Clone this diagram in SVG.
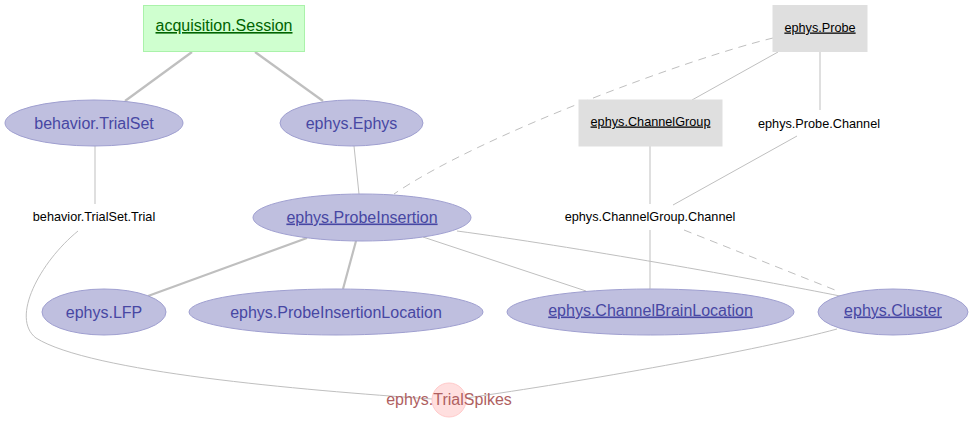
<svg xmlns="http://www.w3.org/2000/svg" width="974" height="424" viewBox="0 0 974 424">
<style>
text{font-family:"Liberation Sans",Arial,sans-serif;text-anchor:middle}
.e{fill:none;stroke:#bfbfbf;stroke-width:1}
.t{stroke-width:2.2}
.d{stroke-dasharray:8,6}
.imp ellipse{fill:#bfbfdf;stroke:#9f9fd0;stroke-width:1}
.imp text{font-size:16px;fill:#4747a3}
.lk rect{fill:#dfdfdf;stroke:#dfdfdf}
.lk text{font-size:12.7px;fill:#000}
.pt text{font-size:12.7px;fill:#000}
.u{text-decoration:underline}
</style>
<rect width="974" height="424" fill="#fff"/>
<g id="edges">
<path class="e t" d="M192,52 L125,101"/>
<path class="e t" d="M255,52 L323,101"/>
<path class="e" d="M95,146 L95,204"/>
<path class="e" d="M354,146 L359,194"/>
<path class="e d" d="M773,38 C690,58 480,135 394,194"/>
<path class="e" d="M778,52 L692,100"/>
<path class="e" d="M820,52 L820,110"/>
<path class="e" d="M650,146 L650,204"/>
<path class="e" d="M797,136 L673,205"/>
<path class="e t" d="M307,238 L148,296"/>
<path class="e t" d="M356,241 L343,289"/>
<path class="e" d="M423,237 L586,291"/>
<path class="e" d="M457,231 C570,246 760,280 840,296"/>
<path class="e d" d="M684,230 L840,292"/>
<path class="e" d="M650,230 L650,289"/>
<path class="e" d="M78,231 C40,262 10,318 36,338 C90,372 300,390 432,399"/>
<path class="e" d="M837,329 C760,350 580,382 466,398"/>
</g>
<g id="acquisition.Session">
<rect x="143.5" y="5.5" width="161" height="46" fill="#cfffcf" stroke="#aaf2aa"/>
<text x="224" y="31" class="u" font-size="16" fill="#006400">acquisition.Session</text>
</g>
<g id="behavior.TrialSet" class="imp">
<ellipse cx="94" cy="123" rx="89" ry="23"/>
<text x="94" y="128.5">behavior.TrialSet</text>
</g>
<g id="ephys.Ephys" class="imp">
<ellipse cx="351.5" cy="123" rx="71.5" ry="23"/>
<text x="351.5" y="128.5">ephys.Ephys</text>
</g>
<g id="ephys.Probe" class="lk">
<rect x="773" y="5.5" width="94" height="46"/>
<text x="820" y="31.5" class="u">ephys.Probe</text>
</g>
<g id="ephys.ChannelGroup" class="lk">
<rect x="579" y="100" width="143" height="46"/>
<text x="650.5" y="125.5" class="u">ephys.ChannelGroup</text>
</g>
<g id="ephys.Probe.Channel" class="pt">
<text x="819" y="127.5">ephys.Probe.Channel</text>
</g>
<g id="behavior.TrialSet.Trial" class="pt">
<text x="94" y="220.5">behavior.TrialSet.Trial</text>
</g>
<g id="ephys.ChannelGroup.Channel" class="pt">
<text x="650" y="220.5">ephys.ChannelGroup.Channel</text>
</g>
<g id="ephys.ProbeInsertion" class="imp">
<ellipse cx="362" cy="217.5" rx="109" ry="23.5"/>
<text x="362" y="222.5" class="u">ephys.ProbeInsertion</text>
</g>
<g id="ephys.LFP" class="imp">
<ellipse cx="104" cy="312" rx="62" ry="23"/>
<text x="104" y="317.5">ephys.LFP</text>
</g>
<g id="ephys.ProbeInsertionLocation" class="imp">
<ellipse cx="336" cy="312" rx="147" ry="23"/>
<text x="336" y="317.5">ephys.ProbeInsertionLocation</text>
</g>
<g id="ephys.ChannelBrainLocation" class="imp">
<ellipse cx="650.5" cy="312" rx="143.5" ry="23"/>
<text x="650.5" y="315.5" class="u">ephys.ChannelBrainLocation</text>
</g>
<g id="ephys.Cluster" class="imp">
<ellipse cx="893" cy="312" rx="75" ry="23"/>
<text x="893" y="315.5" class="u">ephys.Cluster</text>
</g>
<g id="ephys.TrialSpikes">
<circle cx="449" cy="400" r="17" fill="#ffdfdf" stroke="#ffcaca"/>
<text x="449" y="405" font-size="16" fill="#af5f5f">ephys.TrialSpikes</text>
</g>
</svg>
